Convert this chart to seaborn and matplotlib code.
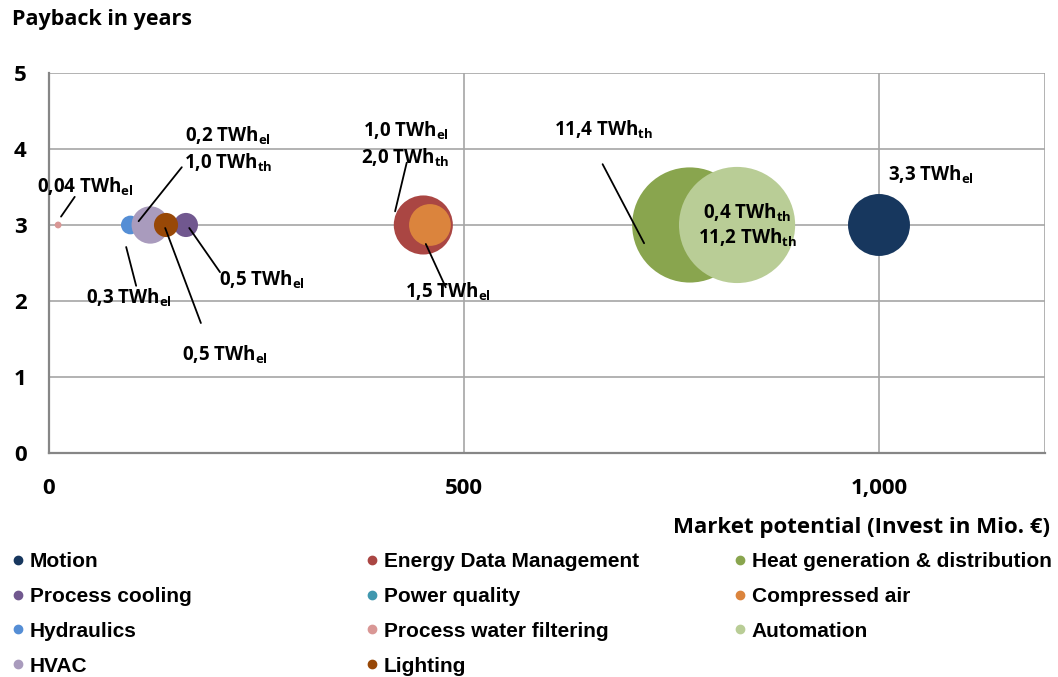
import seaborn as sns
import numpy as np
import pandas as pd
import matplotlib.pyplot as plt
from matplotlib.lines import Line2D

# data
categories = ["Motion", "Energy Data Management", "Heat generation & distribution",
              "Process cooling", "Power quality", "Compressed air",
              "Hydraulics", "Process water filtering", "Automation",
              "HVAC", "Lighting"]
market = [1000, 451, 772, 165, 122, 459, 98, 11, 829, 122, 141]
payback = [3, 3, 3, 3, 3, 3, 3, 3, 3, 3, 3]
twh = [3.3, 3.0, 11.4, 0.5, 0.2, 1.5, 0.3, 0.04, 11.6, 1.2, 0.5]
colors = ["#17375E", "#AA4643", "#89A54E", "#71588F", "#4198AF", "#DB843D",
          "#558ED5", "#D99795", "#B9CD96", "#A99BBD", "#984807"]

# bubble labels: text, left x, baseline y
label_text = ["0,04 TWh$_{\\mathrm{el}}$", "0,3 TWh$_{\\mathrm{el}}$",
              "0,2 TWh$_{\\mathrm{el}}$", "1,0 TWh$_{\\mathrm{th}}$",
              "0,5 TWh$_{\\mathrm{el}}$", "0,5 TWh$_{\\mathrm{el}}$",
              "1,0 TWh$_{\\mathrm{el}}$", "2,0 TWh$_{\\mathrm{th}}$",
              "1,5 TWh$_{\\mathrm{el}}$", "11,4 TWh$_{\\mathrm{th}}$",
              "0,4 TWh$_{\\mathrm{th}}$", "11,2 TWh$_{\\mathrm{th}}$",
              "3,3 TWh$_{\\mathrm{el}}$"]
label_x = [-14, 45, 164, 163, 205, 160, 378, 376, 429, 608, 788, 782, 1011]
label_y = [3.42, 1.97, 4.09, 3.74, 2.20, 1.21, 4.16, 3.80, 2.04, 4.18, 3.08, 2.76, 3.58]

# leader lines (x0, y0, x1, y1)
leaders = [(14.5, 3.11, 31, 3.37), (93, 2.71, 105, 2.20), (108, 3.05, 160, 3.76),
           (140, 2.96, 183, 1.71), (169, 2.96, 206, 2.38), (417, 3.18, 431, 3.82),
           (454, 2.75, 478, 2.18), (667, 3.80, 717, 2.76)]

df = pd.DataFrame({"category": categories, "market": market,
                   "payback": payback, "twh": twh})

sns.set_style("white")
plt.rcParams["font.family"] = ["Open Sans", "DejaVu Sans"]
plt.rcParams["font.weight"] = "bold"
plt.rcParams["text.color"] = "black"
plt.rcParams["xtick.labelcolor"] = "black"
plt.rcParams["ytick.labelcolor"] = "black"
plt.rcParams["mathtext.fontset"] = "custom"
plt.rcParams["mathtext.rm"] = "Open Sans:bold"
plt.rcParams["mathtext.it"] = "Open Sans:bold"
plt.rcParams["mathtext.bf"] = "Open Sans:bold"

fig = plt.figure(figsize=(10.58, 6.77), dpi=100)
ax = fig.add_axes([0.0463, 0.3309, 0.9414, 0.5613])

grid_c = "#A6A6A6"
axis_c = "#868686"
for yv in range(1, 6):
    ax.axhline(yv, color=grid_c, lw=1.2, zorder=0)
for xv in [500, 1000, 1200]:
    ax.axvline(xv, color=grid_c, lw=1.2, zorder=0)

# area proportional to TWh
k = 603
sns.scatterplot(data=df, x="market", y="payback", hue="category",
                palette=dict(zip(categories, colors)), size="twh",
                sizes=(0, k * 12), size_norm=(0, 12), legend=False,
                linewidth=0, alpha=1, ax=ax, zorder=3)

for x0, y0, x1, y1 in leaders:
    ax.plot([x0, x1], [y0, y1], color="black", lw=1.3, zorder=4, clip_on=False)
for t, x, y in zip(label_text, label_x, label_y):
    ax.text(x, y, t, ha="left", va="baseline", fontsize=13.5, fontweight="bold",
            color="black", zorder=5, clip_on=False)

ax.set_xlim(0, 1200)
ax.set_ylim(0, 5)
ax.set_xticks([0, 500, 1000])
ax.set_xticklabels(["0", "500", "1,000"])
ax.set_yticks(range(0, 6))
ax.tick_params(axis="both", length=6, width=1.3, color=axis_c, labelsize=16,
               labelcolor="black", pad=10)
ax.tick_params(axis="x", pad=12)
for lab in ax.get_xticklabels() + ax.get_yticklabels():
    lab.set_fontweight("bold")
for s in ["top", "right"]:
    ax.spines[s].set_visible(False)
for s in ["left", "bottom"]:
    ax.spines[s].set_color(axis_c)
    ax.spines[s].set_linewidth(1.6)
ax.set_xlabel("")
ax.set_ylabel("")

fig.text(12 / 1058, 1 - 25 / 677, "Payback in years", fontsize=15.5,
         fontweight="bold", va="baseline", ha="left", color="black")
fig.text(1050 / 1058, 1 - 533 / 677, "Market potential (Invest in Mio. \u20ac)",
         fontsize=16, fontweight="bold", va="baseline", ha="right", color="black")

# legend in three columns
cols = [[0, 3, 6, 9], [1, 4, 7, 10], [2, 5, 8]]
col_x = [13, 367, 735]
for idx, cx in zip(cols, col_x):
    handles = [Line2D([], [], marker="o", ls="", color=colors[i], markersize=6)
               for i in idx]
    leg = fig.legend(handles, [categories[i] for i in idx], loc="upper left",
                     bbox_to_anchor=(cx / 1058, 1 - 552 / 677), frameon=False,
                     prop={"family": ["Liberation Sans"], "weight": "bold", "size": 15},
                     handlelength=0.5, handletextpad=0.3, labelspacing=0.76,
                     borderpad=0, borderaxespad=0)
    for t in leg.get_texts():
        t.set_color("black")

fig.savefig("out.png", dpi=100)
